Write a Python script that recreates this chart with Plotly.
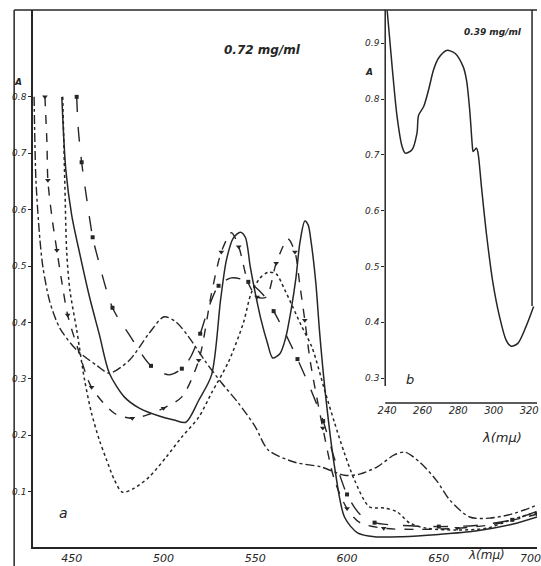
import plotly.graph_objects as go

INK = "#262626"

# ---------------- panel a (0.72 mg/ml), wavelength in m\u03bc, absorbance A -------------
solid_lam = [444.6, 446.8, 450.0, 454.3, 459.7, 465.1, 470.5, 478.6, 486.8, 497.6, 505.7, 512.2,
             519.2, 526.2, 531.1, 534.3, 538.1, 541.9, 544.6, 547.3, 550.0, 553.2, 556.5, 559.5,
             563.5, 566.5, 569.5, 572.2, 574.3, 577.0, 578.8, 580.5, 583.0, 585.1, 588.4, 593.2,
             598.6, 605.7, 615.0, 630.0, 650.0, 670.0, 690.0, 703.5]
solid_A = [0.80, 0.67, 0.59, 0.523, 0.445, 0.378, 0.310, 0.268, 0.248, 0.234, 0.227, 0.223,
           0.262, 0.307, 0.44, 0.511, 0.550, 0.560, 0.551, 0.498, 0.452, 0.404, 0.365, 0.337,
           0.345, 0.372, 0.422, 0.480, 0.541, 0.580, 0.573, 0.541, 0.470, 0.381, 0.268, 0.144,
           0.055, 0.027, 0.020, 0.020, 0.024, 0.030, 0.042, 0.055]

dotted_lam = [445.1, 446.2, 447.3, 449.0, 452.7, 457.0, 460.8, 465.1, 468.9, 473.2, 477.6, 484.0,
              492.2, 501.4, 510.0, 519.2, 526.2, 535.4, 543.5, 547.8, 552.7, 557.0, 561.4, 566.2,
              570.5, 575.0, 581.0, 587.8, 593.2, 598.6, 604.0, 612.2, 620.3, 627.3, 634.3, 643.5,
              659.7, 676.0, 689.5, 703.5]
dotted_A = [0.80, 0.652, 0.523, 0.457, 0.387, 0.298, 0.239, 0.191, 0.157, 0.121, 0.099, 0.106,
            0.126, 0.161, 0.197, 0.232, 0.275, 0.330, 0.399, 0.452, 0.479, 0.489, 0.486, 0.457,
            0.427, 0.395, 0.355, 0.280, 0.222, 0.168, 0.121, 0.073, 0.071, 0.064, 0.044, 0.035,
            0.032, 0.035, 0.050, 0.064]

dashdot_lam = [429.5, 430.5, 432.7, 434.3, 438.1, 443.5, 452.7, 463.5, 470.5, 481.4, 492.2, 500.3,
               506.8, 513.8, 523.0, 531.6, 540.8, 550.0, 557.0, 571.6, 585.7, 598.6, 606.8, 616.5,
               625.7, 631.6, 639.7, 648.9, 656.0, 666.8, 677.6, 689.5, 703.5]
dashdot_A = [0.80, 0.652, 0.546, 0.498, 0.436, 0.390, 0.351, 0.324, 0.310, 0.333, 0.381, 0.410,
             0.401, 0.374, 0.330, 0.293, 0.257, 0.215, 0.174, 0.152, 0.144, 0.129, 0.131, 0.144,
             0.165, 0.170, 0.152, 0.119, 0.085, 0.055, 0.053, 0.060, 0.076]

tri_lam = [435.4, 436.5, 437.0, 439.2, 441.9, 444.6, 447.8, 453.2, 460.8, 473.2, 483.0, 491.1,
           500.0, 510.0, 519.2, 526.2, 531.5, 537.0, 541.0, 546.2, 551.0, 556.0, 561.4, 567.8,
           571.6, 574.3, 577.0, 580.0, 586.8, 593.2, 600.0, 607.0, 620.0, 640.0, 660.0, 680.0, 703.5]
tri_A = [0.80, 0.718, 0.652, 0.587, 0.528, 0.472, 0.413, 0.355, 0.285, 0.239, 0.230, 0.236,
         0.248, 0.268, 0.333, 0.452, 0.525, 0.559, 0.534, 0.470, 0.445, 0.445, 0.505, 0.548,
         0.525, 0.466, 0.404, 0.330, 0.213, 0.120, 0.070, 0.045, 0.035, 0.033, 0.035, 0.042, 0.060]

sq_lam = [452.7, 453.5, 455.4, 458.1, 461.4, 463.5, 472.2, 481.4, 493.2, 503.0, 510.0, 515.0,
          520.0, 525.0, 530.0, 537.0, 546.2, 554.3, 560.0, 566.0, 573.0, 580.0, 587.0, 593.0,
          600.0, 607.0, 615.0, 630.0, 650.0, 670.0, 690.0, 703.5]
sq_A = [0.80, 0.746, 0.684, 0.621, 0.551, 0.523, 0.426, 0.378, 0.323, 0.307, 0.318, 0.340,
        0.380, 0.430, 0.465, 0.479, 0.472, 0.449, 0.420, 0.383, 0.335, 0.283, 0.225, 0.160,
        0.095, 0.060, 0.045, 0.040, 0.038, 0.040, 0.050, 0.065]

main_xticks = [450, 500, 550, 600, 650, 700]
main_yticks = [0.1, 0.2, 0.3, 0.4, 0.5, 0.6, 0.7, 0.8]

# ---------------- panel b (0.39 mg/ml), UV region -------------
uv_lam = [240.0, 242.8, 245.6, 248.4, 250.2, 254.0, 256.8, 257.7, 260.5, 263.3, 266.1, 268.9,
          273.5, 278.2, 282.8, 284.7, 286.5, 288.0, 288.4, 290.3, 291.2, 293.1, 295.9, 299.6,
          303.3, 307.0, 309.8, 313.6, 318.2, 322.5]
uv_A = [0.959, 0.858, 0.768, 0.715, 0.703, 0.709, 0.739, 0.771, 0.786, 0.816, 0.852, 0.873,
        0.887, 0.882, 0.858, 0.834, 0.780, 0.715, 0.706, 0.712, 0.703, 0.643, 0.559, 0.470,
        0.410, 0.368, 0.357, 0.362, 0.392, 0.428]
uv_xticks = [240, 260, 280, 300, 320]
uv_yticks = [0.3, 0.4, 0.5, 0.6, 0.7, 0.8, 0.9]

W, H = 541, 566
L, R, T, B = 33, 0, 10, 19
PW, PH = W - L - R, H - T - B


def px(x, y):
    return (x - L) / PW, (H - B - y) / PH


fig = go.Figure()

def line_trace(xs, ys, dash, width=1.4, xa="x", ya="y"):
    fig.add_trace(go.Scatter(x=xs, y=ys, mode="lines", xaxis=xa, yaxis=ya,
                             line=dict(color=INK, width=width, dash=dash, shape="spline", smoothing=0.8),
                             hoverinfo="skip", showlegend=False))

line_trace(solid_lam, solid_A, "solid", 1.5)
line_trace(dotted_lam, dotted_A, "dot", 1.5)
line_trace(dashdot_lam, dashdot_A, "dashdot", 1.4)
line_trace(tri_lam, tri_A, "dash", 1.4)
line_trace(sq_lam, sq_A, "longdash", 1.4)

fig.add_trace(go.Scatter(x=tri_lam[::2], y=tri_A[::2], mode="markers",
                         marker=dict(symbol="triangle-down", size=5, color=INK),
                         hoverinfo="skip", showlegend=False))
fig.add_trace(go.Scatter(x=sq_lam[::2], y=sq_A[::2], mode="markers",
                         marker=dict(symbol="square", size=4, color=INK),
                         hoverinfo="skip", showlegend=False))

line_trace(uv_lam, uv_A, "solid", 1.5, "x2", "y2")

tickfont = dict(family="DejaVu Sans", size=10, color=INK, style="italic")

x2_lo, x2_hi = px(388, 0)[0], 1.0
y2_lo, y2_hi = px(0, 403)[1], 1.0

fig.update_layout(
    width=W, height=H,
    margin=dict(l=L, r=R, t=T, b=B),
    paper_bgcolor="white", plot_bgcolor="white",
    xaxis=dict(range=[428.9, 703.5], domain=[0, 1], showgrid=False, zeroline=False,
               showline=True, linecolor=INK, linewidth=1.5, ticks="", tickvals=main_xticks,
               ticktext=[str(v) for v in main_xticks], tickfont=dict(tickfont, size=11),
               ticklabeloverflow="allow"),
    yaxis=dict(range=[0.0018, 0.954], domain=[0, 1], showgrid=False, zeroline=False,
               showline=True, linecolor=INK, linewidth=1.5, ticks="outside", ticklen=3,
               tickcolor=INK, tickvals=main_yticks, ticktext=[f"{v:.1f}" for v in main_yticks],
               tickfont=dict(tickfont, size=9)),
    xaxis2=dict(range=[238.9, 324.4], domain=[x2_lo, x2_hi], anchor="y2", showgrid=False,
                zeroline=False, showline=False, ticks="", tickvals=uv_xticks,
                ticktext=[str(v) for v in uv_xticks], tickfont=dict(tickfont, size=10),
                ticklabeloverflow="allow"),
    yaxis2=dict(range=[0.2552, 0.9595], domain=[y2_lo, y2_hi], anchor="x2", showgrid=False,
                zeroline=False, showline=False, ticks="outside", ticklen=3, tickcolor=INK,
                tickvals=uv_yticks, ticktext=[f"{v:.1f}" for v in uv_yticks],
                tickfont=dict(tickfont, size=9)),
)

def seg(x0, y0, x1, y1, w=1.5):
    a, b = px(x0, y0)
    c, d = px(x1, y1)
    fig.add_shape(type="line", xref="paper", yref="paper", x0=a, y0=b, x1=c, y1=d,
                  line=dict(color=INK, width=w))

seg(14, 10, 14, 566)       # outer left border
seg(14, 10, 541, 10)       # top border
seg(388, 10, 388, 386)     # inset y axis
seg(388, 403, 541, 403)    # inset x axis
seg(536, 10, 536, 306)     # inset right border

def note(x, y, text, size, weight="normal"):
    a, b = px(x, y)
    fig.add_annotation(xref="paper", yref="paper", x=a, y=b, text=text, showarrow=False,
                       font=dict(family="DejaVu Sans", size=size, color=INK, style="italic",
                                 weight=weight), xanchor="center", yanchor="middle")

note(264, 50, "0.72 mg/ml", 12, "bold")
note(18, 82, "A", 9, "bold")
note(64, 513, "a", 14)
note(490, 555, "\u03bb(m\u03bc)", 12)
note(497, 32, "0.39 mg/ml", 9, "bold")
note(372, 72, "A", 9, "bold")
note(413, 379, "b", 13)
note(506, 437, "\u03bb(m\u03bc)", 13)

fig.write_html("out.html", config={"displayModeBar": False},
               post_script="document.body.style.margin='0px';")
